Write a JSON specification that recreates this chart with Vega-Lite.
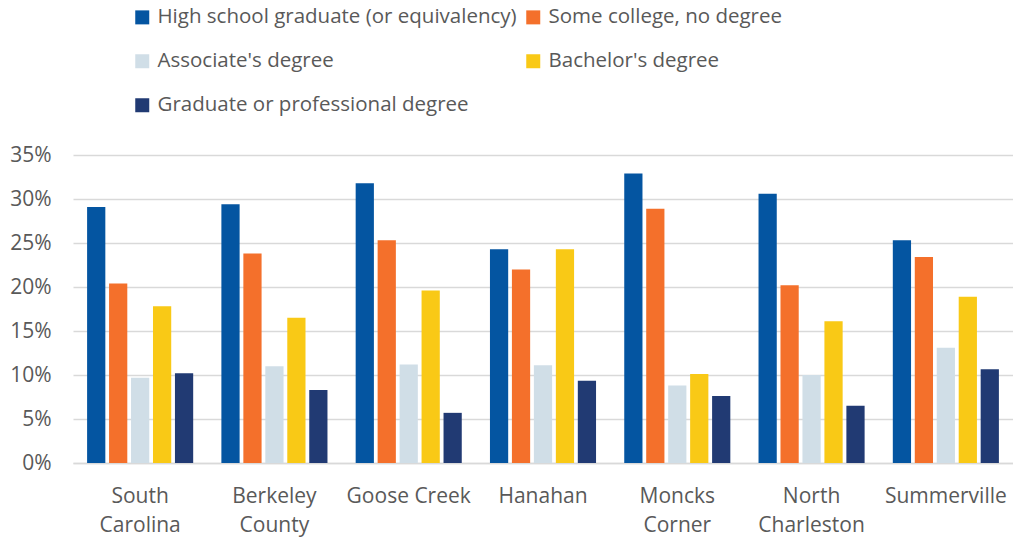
{
  "$schema": "https://vega.github.io/schema/vega-lite/v6.json",
  "width": 940,
  "height": 308,
  "autosize": {"type": "none"},
  "padding": {"left": 73, "top": 155, "right": 0, "bottom": 74},
  "background": "white",
  "config": {
    "view": {"stroke": null},
    "font": "Open Sans",
    "axis": {"labelFont": "Open Sans", "labelColor": "#595959"},
    "legend": {"labelFont": "Open Sans"}
  },
  "data": {
    "values": [
      {"region": "South Carolina", "level": "High school graduate (or equivalency)", "value": 0.291},
      {"region": "South Carolina", "level": "Some college, no degree", "value": 0.204},
      {"region": "South Carolina", "level": "Associate's degree", "value": 0.097},
      {"region": "South Carolina", "level": "Bachelor's degree", "value": 0.178},
      {"region": "South Carolina", "level": "Graduate or professional degree", "value": 0.102},
      {"region": "Berkeley County", "level": "High school graduate (or equivalency)", "value": 0.294},
      {"region": "Berkeley County", "level": "Some college, no degree", "value": 0.238},
      {"region": "Berkeley County", "level": "Associate's degree", "value": 0.110},
      {"region": "Berkeley County", "level": "Bachelor's degree", "value": 0.165},
      {"region": "Berkeley County", "level": "Graduate or professional degree", "value": 0.083},
      {"region": "Goose Creek", "level": "High school graduate (or equivalency)", "value": 0.318},
      {"region": "Goose Creek", "level": "Some college, no degree", "value": 0.253},
      {"region": "Goose Creek", "level": "Associate's degree", "value": 0.112},
      {"region": "Goose Creek", "level": "Bachelor's degree", "value": 0.196},
      {"region": "Goose Creek", "level": "Graduate or professional degree", "value": 0.057},
      {"region": "Hanahan", "level": "High school graduate (or equivalency)", "value": 0.243},
      {"region": "Hanahan", "level": "Some college, no degree", "value": 0.220},
      {"region": "Hanahan", "level": "Associate's degree", "value": 0.111},
      {"region": "Hanahan", "level": "Bachelor's degree", "value": 0.243},
      {"region": "Hanahan", "level": "Graduate or professional degree", "value": 0.0935},
      {"region": "Moncks Corner", "level": "High school graduate (or equivalency)", "value": 0.329},
      {"region": "Moncks Corner", "level": "Some college, no degree", "value": 0.289},
      {"region": "Moncks Corner", "level": "Associate's degree", "value": 0.088},
      {"region": "Moncks Corner", "level": "Bachelor's degree", "value": 0.101},
      {"region": "Moncks Corner", "level": "Graduate or professional degree", "value": 0.076},
      {"region": "North Charleston", "level": "High school graduate (or equivalency)", "value": 0.306},
      {"region": "North Charleston", "level": "Some college, no degree", "value": 0.202},
      {"region": "North Charleston", "level": "Associate's degree", "value": 0.100},
      {"region": "North Charleston", "level": "Bachelor's degree", "value": 0.161},
      {"region": "North Charleston", "level": "Graduate or professional degree", "value": 0.065},
      {"region": "Summerville", "level": "High school graduate (or equivalency)", "value": 0.253},
      {"region": "Summerville", "level": "Some college, no degree", "value": 0.234},
      {"region": "Summerville", "level": "Associate's degree", "value": 0.131},
      {"region": "Summerville", "level": "Bachelor's degree", "value": 0.189},
      {"region": "Summerville", "level": "Graduate or professional degree", "value": 0.1065}
    ]
  },
  "mark": {"type": "bar"},
  "encoding": {
    "x": {
      "field": "region",
      "type": "nominal",
      "sort": null,
      "scale": {"paddingInner": 0.21, "paddingOuter": 0.105},
      "axis": {
        "title": null,
        "labelAngle": 0,
        "labelFontSize": 21,
        "labelLineHeight": 29,
        "labelPadding": 22,
        "ticks": false,
        "tickSize": 0,
        "domainColor": "#d9d9d9",
        "domainWidth": 1.5,
        "labelExpr": "(datum.label == 'Goose Creek' || datum.label == 'Hanahan' || datum.label == 'Summerville') ? datum.label : split(datum.label, ' ')"
      }
    },
    "xOffset": {
      "field": "level",
      "type": "nominal",
      "sort": ["High school graduate (or equivalency)", "Some college, no degree", "Associate's degree", "Bachelor's degree", "Graduate or professional degree"],
      "scale": {"paddingInner": 0.17, "paddingOuter": 0}
    },
    "y": {
      "field": "value",
      "type": "quantitative",
      "scale": {"domain": [0, 0.35], "nice": false},
      "axis": {
        "title": null,
        "format": ".0%",
        "values": [0, 0.05, 0.1, 0.15, 0.2, 0.25, 0.3, 0.35],
        "labelFontSize": 21,
        "labelPadding": 22,
        "ticks": false,
        "tickSize": 0,
        "domain": false,
        "gridColor": "#d9d9d9",
        "gridWidth": 1.5
      }
    },
    "color": {
      "field": "level",
      "type": "nominal",
      "sort": ["High school graduate (or equivalency)", "Some college, no degree", "Associate's degree", "Bachelor's degree", "Graduate or professional degree"],
      "scale": {
        "domain": ["High school graduate (or equivalency)", "Some college, no degree", "Associate's degree", "Bachelor's degree", "Graduate or professional degree"],
        "range": ["#0455A1", "#F4702B", "#D0DEE7", "#F9C916", "#213A73"]
      },
      "legend": {
        "title": null,
        "orient": "none",
        "legendX": 59,
        "legendY": -148,
        "direction": "horizontal",
        "columns": 2,
        "symbolType": "square",
        "symbolSize": 196,
        "symbolStrokeWidth": 0,
        "labelFontSize": 20.5,
        "labelColor": "#595959",
        "labelOffset": 5,
        "labelLimit": 500,
        "rowPadding": 23,
        "columnPadding": 6,
        "padding": 0
      }
    }
  }
}
